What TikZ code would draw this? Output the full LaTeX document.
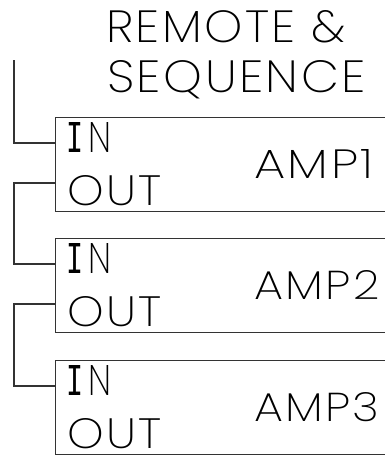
\documentclass[tikz,border=0pt]{standalone}
\usepackage{fontspec}
\usepackage{graphicx}
\newfontfamily\cadfont[LetterSpace=5]{Poppins ExtraLight}
\newfontfamily\cadmono{DejaVu Sans Mono}
\usetikzlibrary{calc}
\newcommand{\cadtxt}[3]{\resizebox{#1pt}{#2pt}{\cadfont #3\kern-0.05em}}
\begin{document}
\begin{tikzpicture}[x=1pt,y=-1pt,
  wire/.style={draw=black!80,line width=1.1pt},
  ampbox/.style={draw=black!80,line width=1.1pt,minimum width=360pt,minimum height=94pt,inner sep=0pt,anchor=north west},
  lbl/.style={inner sep=0pt,anchor=base west}]
\useasboundingbox (0,0) rectangle (385,455);
\clip (0,0) rectangle (385,455);
\node[lbl] (title1) at (106,42) {\cadtxt{237}{32}{REMOTE \&}};
\node[lbl] (title2) at (107,92) {\cadtxt{256}{32}{SEQUENCE}};
\foreach \k/\t/\w in {1/117/117,2/238/123,3/360/123}{
  \node[ampbox] (b\k) at (55,\t) {};
  \coordinate (in\k) at (55,\t+26);
  \coordinate (out\k) at (55,\t+66);
  \node[lbl] (inl\k) at (66,\t+35) {\resizebox{17pt}{30pt}{\cadmono I}\kern5pt\resizebox{23pt}{30pt}{\cadfont N}};
  \node[lbl] (outl\k) at (67,\t+88) {\cadtxt{92}{30}{OUT}};
  \node[lbl] (amp\k) at (254,\t+61) {\cadtxt{\w}{29}{AMP\k}};
}
\coordinate (src) at (14,60);
\draw[wire] (src) |- (in1);
\draw[wire] (out1) -- (out1 -| src) |- (in2);
\draw[wire] (out2) -- (out2 -| src) |- (in3);
\end{tikzpicture}
\end{document}
